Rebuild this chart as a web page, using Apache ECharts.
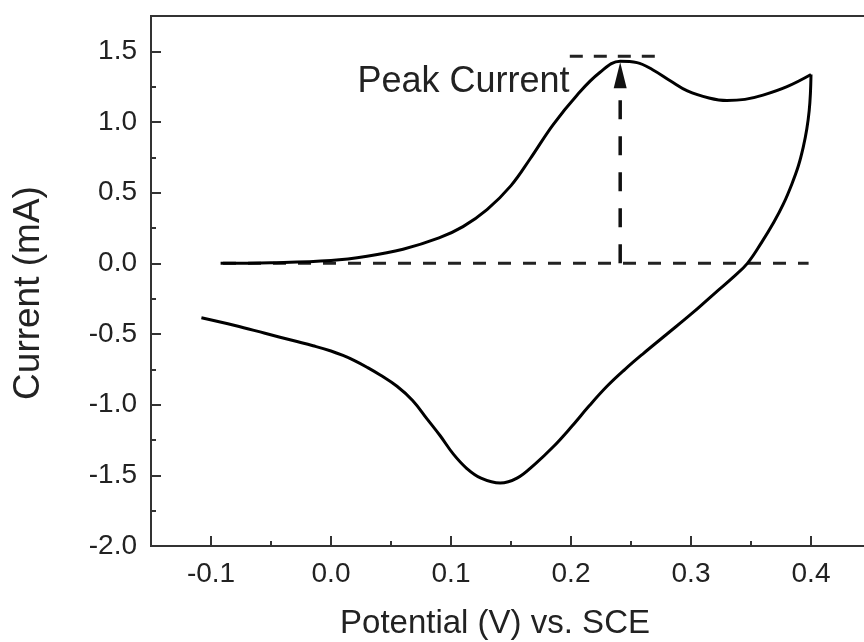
<!DOCTYPE html>
<html>
<head>
<meta charset="utf-8">
<script src="https://cdn.jsdelivr.net/npm/echarts@6/dist/echarts.min.js"></script>
<style>
  html, body { margin: 0; padding: 0; background: #fff; }
  #chart { width: 864px; height: 642px; }
</style>
</head>
<body>
<div id="chart"></div>
<script>
// forward (anodic) scan, V vs SCE / mA
var forwardE = [-0.092, -0.05, 0.0, 0.03, 0.06, 0.09, 0.11, 0.13, 0.15, 0.166, 0.185, 0.205, 0.224, 0.241, 0.255, 0.268, 0.283, 0.297, 0.315, 0.33, 0.345, 0.36, 0.38, 0.40];
var forwardI = [0.0, 0.004, 0.02, 0.05, 0.10, 0.18, 0.26, 0.38, 0.55, 0.74, 0.98, 1.19, 1.35, 1.43, 1.42, 1.37, 1.29, 1.22, 1.17, 1.152, 1.16, 1.19, 1.25, 1.336];
// reverse (cathodic) scan
var reverseE = [0.40, 0.3995, 0.3985, 0.3965, 0.3935, 0.3895, 0.384, 0.377, 0.369, 0.359, 0.347, 0.335, 0.32, 0.30, 0.28, 0.26, 0.245, 0.23, 0.215, 0.20, 0.185, 0.17, 0.155, 0.141, 0.125, 0.113, 0.102, 0.091, 0.08, 0.068, 0.055, 0.041, 0.03, 0.02, 0.01, 0.0, -0.015, -0.03, -0.055, -0.08, -0.108];
var reverseI = [1.336, 1.20, 1.08, 0.95, 0.82, 0.69, 0.56, 0.42, 0.29, 0.15, 0.0, -0.10, -0.21, -0.36, -0.50, -0.64, -0.75, -0.87, -1.01, -1.16, -1.30, -1.42, -1.52, -1.555, -1.52, -1.45, -1.35, -1.22, -1.10, -0.97, -0.87, -0.79, -0.735, -0.69, -0.652, -0.62, -0.583, -0.55, -0.495, -0.44, -0.385];

// annotation
var baseLine = [[-0.09, 0], [0.398, 0]];
var peakLine = [[0.199, 1.465], [0.277, 1.465]];
var peakArrow = [[0.241, 0], [0.241, 1.26]];
var arrowHead = [[0.241, 1.33]];
var peakLabel = [[0.022, 1.28]];

var xMajor = [-0.1, 0.0, 0.1, 0.2, 0.3, 0.4];
var xMinor = [-0.05, 0.05, 0.15, 0.25, 0.35];
var yMajor = [-2.0, -1.5, -1.0, -0.5, 0.0, 0.5, 1.0, 1.5];
var yMinor = [-1.75, -1.25, -0.75, -0.25, 0.25, 0.75, 1.25];

function zip(a, b) {
  return a.map(function (v, i) { return [v, b[i]]; });
}

var axisColor = "#333";
var textColor = "#222";
var font = "Liberation Sans, Arial, sans-serif";

var myChart = echarts.init(document.getElementById("chart"));

var option = {
  animation: false,
  grid: {
    left: 151, right: -7, top: 16, bottom: 96,
    show: true, borderColor: axisColor, borderWidth: 2,
    outerBoundsMode: "none"
  },
  xAxis: [
    {
      type: "value", min: -0.15, max: 0.45, position: "bottom",
      name: "Potential (V) vs. SCE", nameLocation: "middle", nameGap: 61,
      nameTextStyle: { fontSize: 33, color: textColor, fontFamily: font, padding: [0, 32, 0, 0] },
      axisLine: { onZero: false, lineStyle: { color: axisColor, width: 2 } },
      axisTick: { inside: true, length: 10, customValues: xMajor, lineStyle: { color: axisColor, width: 2 } },
      axisLabel: {
        customValues: xMajor, margin: 14, fontSize: 28, color: textColor, fontFamily: font,
        formatter: function (v) { return v.toFixed(1); }
      },
      splitLine: { show: false }
    },
    {
      type: "value", min: -0.15, max: 0.45, position: "bottom",
      axisLine: { show: false, onZero: false },
      axisTick: { inside: true, length: 5, customValues: xMinor, lineStyle: { color: axisColor, width: 2 } },
      axisLabel: { show: false },
      splitLine: { show: false }
    }
  ],
  yAxis: [
    {
      type: "value", min: -2.0, max: 1.75, position: "left",
      name: "Current (mA)", nameLocation: "middle", nameGap: 104,
      nameTextStyle: { fontSize: 37, color: textColor, fontFamily: font, padding: [0, 24, 0, 0] },
      axisLine: { show: true, onZero: false, lineStyle: { color: axisColor, width: 2 } },
      axisTick: { show: true, inside: true, length: 10, customValues: yMajor, lineStyle: { color: axisColor, width: 2 } },
      axisLabel: {
        customValues: yMajor, margin: 14, fontSize: 28, color: textColor, fontFamily: font,
        formatter: function (v) { return v.toFixed(1); }
      },
      splitLine: { show: false }
    },
    {
      type: "value", min: -2.0, max: 1.75, position: "left",
      axisLine: { show: false, onZero: false },
      axisTick: { show: true, inside: true, length: 5, customValues: yMinor, lineStyle: { color: axisColor, width: 2 } },
      axisLabel: { show: false },
      splitLine: { show: false }
    }
  ],
  series: [
    {
      name: "baseline", type: "line", data: baseLine, symbol: "none", z: 1,
      lineStyle: { color: "#222", width: 3, type: [13, 12] }
    },
    {
      name: "peak level", type: "line", data: peakLine, symbol: "none", z: 1,
      lineStyle: { color: "#222", width: 3, type: [13, 11] }
    },
    {
      name: "peak arrow", type: "line", data: peakArrow, symbol: "none", z: 1,
      lineStyle: { color: "#111", width: 3.5, type: [19, 17] }
    },
    {
      name: "arrow head", type: "scatter", data: arrowHead, symbol: "triangle",
      symbolSize: [13, 26], itemStyle: { color: "#111", opacity: 1 }, z: 2
    },
    {
      name: "label", type: "scatter", data: peakLabel, symbolSize: 0, z: 2,
      itemStyle: { opacity: 1 },
      label: {
        show: true, position: "right", distance: 0, formatter: "Peak Current",
        fontSize: 36, color: textColor, fontFamily: font, opacity: 1
      }
    },
    {
      name: "forward", type: "line", data: zip(forwardE, forwardI), symbol: "none",
      smooth: 0.4, z: 3, lineStyle: { color: "#000", width: 3 }
    },
    {
      name: "reverse", type: "line", data: zip(reverseE, reverseI), symbol: "none",
      smooth: 0.4, z: 3, lineStyle: { color: "#000", width: 3 }
    }
  ]
};

myChart.setOption(option);
</script>
</body>
</html>
